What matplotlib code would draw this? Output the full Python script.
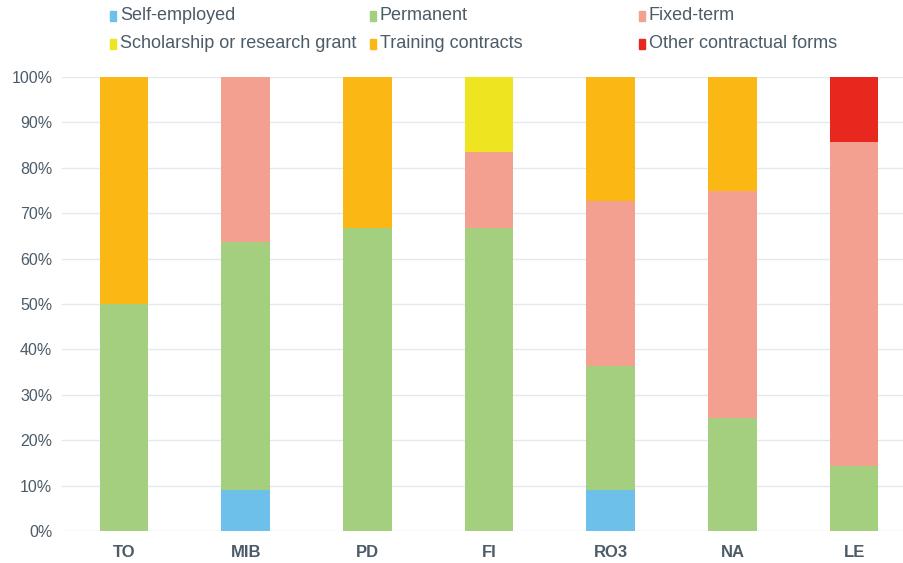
import numpy as np
import matplotlib.pyplot as plt
from matplotlib.patches import Rectangle

plt.rcParams['font.family'] = ['Liberation Sans', 'DejaVu Sans']

# Data (percent of respondents per site)
sites = ["TO", "MIB", "PD", "FI", "RO3", "NA", "LE"]
self_employed = [0, 9.1, 0, 0, 9.1, 0, 0]
permanent = [50, 54.5, 66.7, 66.7, 27.3, 25, 14.3]
fixed_term = [0, 36.4, 0, 16.7, 36.4, 50, 71.4]
scholarship = [0, 0, 0, 16.6, 0, 0, 0]
training = [50, 0, 33.3, 0, 27.2, 25, 0]
other = [0, 0, 0, 0, 0, 0, 14.3]

series = [
    ("Self-employed", self_employed, "#6cc0ea"),
    ("Permanent", permanent, "#a3cf7e"),
    ("Fixed-term", fixed_term, "#f4a091"),
    ("Scholarship or research grant", scholarship, "#efe420"),
    ("Training contracts", training, "#fbb814"),
    ("Other contractual forms", other, "#e8281f"),
]

label_col = "#4b5b68"

fig = plt.figure(figsize=(9.04, 5.63), dpi=100)
ax = fig.add_axes([0.0686, 0.0568, 0.9314, 0.8064])

x = np.arange(len(sites))
bottom = np.zeros(len(sites))
for name, vals, col in series:
    vals = np.array(vals, dtype=float)
    ax.bar(x, vals, 0.4, bottom=bottom, color=col, zorder=2)
    bottom += vals

ax.set_ylim(0, 100)
ax.set_xlim(-0.51, 6.41)
ax.set_yticks(np.arange(0, 101, 10))
ax.set_yticklabels([f"{v}%" for v in range(0, 101, 10)])
ax.yaxis.grid(True, color="#e2eaf0", lw=1, zorder=0)
ax.set_xticks(x)
ax.set_xticklabels(sites, fontweight="bold")
ax.tick_params(axis="both", length=0, colors=label_col)
ax.tick_params(axis="y", pad=7, labelsize=11.5)
ax.tick_params(axis="x", pad=10, labelsize=12)
for s in ax.spines.values():
    s.set_visible(False)

# legend in 3 columns, row-major
col_x = [113, 373, 642]
row_y = [16, 44]
W, H = 904, 563
for i, (name, vals, col) in enumerate(series):
    px = col_x[i % 3]
    py = row_y[i // 3]
    fig.patches.append(Rectangle(((px - 3) / W, 1 - (py + 5) / H), 6 / W, 10 / H,
                                 transform=fig.transFigure, color=col))
    fig.text((px + 7) / W, 1 - py / H, name, fontsize=13, color=label_col,
             va="center", ha="left")

fig.savefig("out.png", dpi=100)
